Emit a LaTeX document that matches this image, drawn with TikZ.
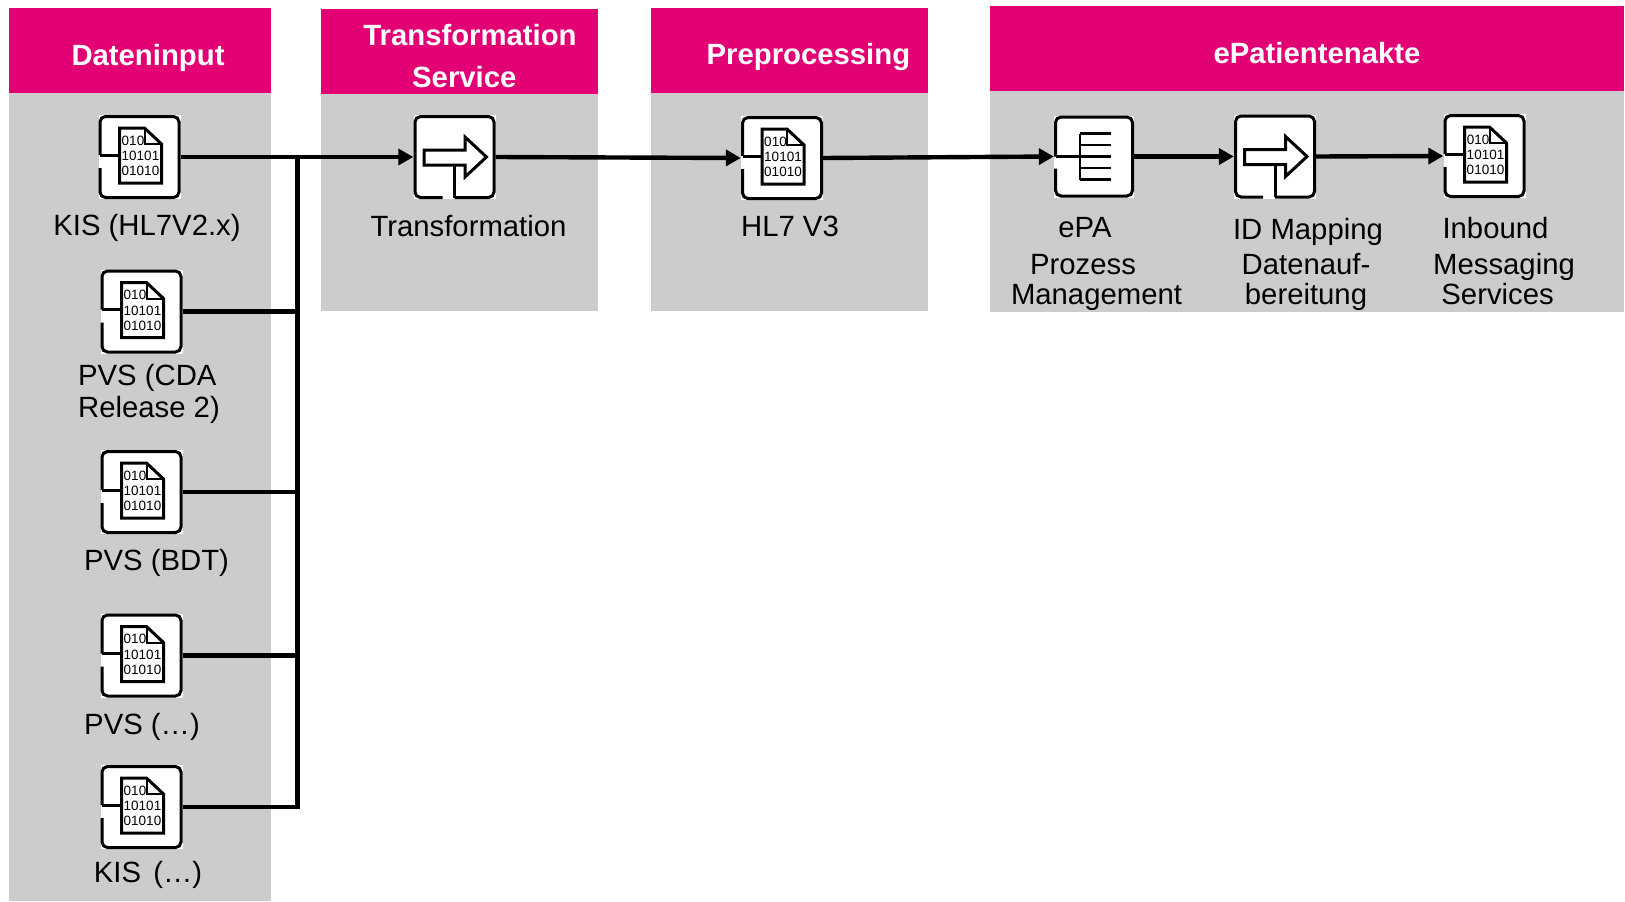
\documentclass[tikz,border=0pt]{standalone}
\usepackage{fontspec}
\setmainfont{Liberation Sans}
\usetikzlibrary{arrows.meta}
\definecolor{headpink}{HTML}{E20074}
\definecolor{panelgrey}{HTML}{CCCCCC}
\tikzset{
  bindoc/.pic={
    \draw[glyph,fill=white] (-20,-29) -- (5,-29) -- (22,-13) -- (22,26) -- (-20,26) -- cycle;
    \draw[glyph,line width=2pt] (5,-29) -- (5,-13) -- (22,-13);
    \draw[glyph,rounded corners=5.5pt] (-39.5,11) -- (-39.5,40.5) -- (39.5,40.5) -- (39.5,-40.5) -- (-39.5,-40.5) -- (-39.5,-2);
    \draw[glyph] (-39.5,-2) -- (-20,-2);
    \node[bits] (-bita) at (-6.5,-16.5) {010};
    \node[bits] (-bitb) at (1,-1) {10101};
    \node[bits] (-bitc) at (1,14) {01010};
  },
  mapicon/.pic={
    \draw[glyph,rounded corners=5.5pt] (-12,40.5) -- (-39.5,40.5) -- (-39.5,-40.5) -- (39.5,-40.5) -- (39.5,40.5) -- (0,40.5);
    \draw[glyph] (0,40.5) -- (0,8);
    \draw[glyph] (-30.5,-7) -- (10.5,-7) -- (10.5,-20) -- (32,0) -- (10.5,20) -- (10.5,8) -- (-30.5,8) -- cycle;
  },
  listicon/.pic={
    \draw[glyph,rounded corners=5.5pt] (-38.5,12) -- (-38.5,39.5) -- (38.5,39.5) -- (38.5,-39.5) -- (-38.5,-39.5) -- (-38.5,0);
    \draw[glyph,line width=2.2pt] (-38.5,0) -- (-14,0);
    \draw[glyph,line width=2.6pt] (-14,-23) -- (-14,23);
    \foreach \t in {-23,-11.5,0,11.5,23}
      \draw[glyph,line width=2.6pt] (-14,\t) -- (17,\t);
  }
}
\begin{document}
\begin{tikzpicture}[x=1pt,y=-1pt,>={Triangle[length=15pt,width=16pt]},
  flow/.style={->,line width=4.4pt},
  busline/.style={line width=4.4pt},
  glyph/.style={line width=3pt,black},
  bits/.style={font=\fontsize{13.5}{14}\selectfont,inner sep=0pt},
  iconbox/.style={fill=white,minimum width=82pt,minimum height=84pt,inner sep=0pt},
  headtext/.style={font=\fontsize{29.3}{32}\selectfont\bfseries,text=white,inner sep=0pt,text height=21pt,text depth=0pt},
  labeltext/.style={font=\fontsize{29.3}{32}\selectfont,inner sep=0pt,text height=21pt,text depth=0pt}]
  \useasboundingbox (0,0) rectangle (1625,902);
  \foreach \xa/\xb/\ya/\yb/\yc in {9/271/8/93/901,321/598/9/94/311,651/928/8/93/311,990/1624/6/91/312}{
    \fill[panelgrey] (\xa,\yb) rectangle (\xb,\yc);
    \fill[headpink] (\xa,\ya) rectangle (\xb,\yb);
  }
  \node[headtext] (headinput) at (148,55) {Dateninput};
  \node[headtext] (headtransa) at (470,35) {Transformation};
  \node[headtext] (headtransb) at (464.3,76.7) {Service};
  \node[headtext] (headpre) at (808.4,54) {Preprocessing};
  \node[headtext] (headepa) at (1317,53) {ePatientenakte};

  \node[iconbox] (kisa) at (139.5,157) {};
  \node[iconbox] (pvsa) at (141.5,311.5) {};
  \node[iconbox] (pvsb) at (141.5,492) {};
  \node[iconbox] (pvsc) at (141.5,655.5) {};
  \node[iconbox] (kisb) at (141.5,807) {};
  \node[iconbox] (trans) at (454.5,157) {};
  \node[iconbox] (hlv) at (782,158) {};
  \node[iconbox,minimum width=80pt,minimum height=82pt] (prozess) at (1094,156.5) {};
  \node[iconbox] (mapping) at (1275,156.5) {};
  \node[iconbox] (inbound) at (1484.5,156) {};
  \pic (kisa-doc) at (kisa) {bindoc};
  \pic (pvsa-doc) at (pvsa) {bindoc};
  \pic (pvsb-doc) at (pvsb) {bindoc};
  \pic (pvsc-doc) at (pvsc) {bindoc};
  \pic (kisb-doc) at (kisb) {bindoc};
  \pic (hlv-doc) at (hlv) {bindoc};
  \pic (inbound-doc) at (inbound) {bindoc};
  \pic (trans-map) at (trans) {mapicon};
  \pic (mapping-map) at (mapping) {mapicon};
  \pic (prozess-list) at (prozess) {listicon};

  \node[labeltext] (kisatext) at (147,225) {KIS (HL7V2.x)};
  \node[labeltext,align=left,text height=,text depth=] (pvsatext) at (149,394) {PVS (CDA\\Release 2)};
  \node[labeltext] (pvsbtext) at (156.5,560) {PVS (BDT)};
  \node[labeltext] (pvsctext) at (142,723.5) {PVS (…)};
  \node[labeltext] (kisbtext) at (148,872) {KIS\hspace{4pt} (…)};
  \node[labeltext] (transtext) at (468.5,226) {Transformation};
  \node[labeltext] (hlvtext) at (790,226) {HL7 V3};
  \node[labeltext] (prozessa) at (1085,227) {ePA};
  \node[labeltext] (prozessb) at (1083,264) {Prozess};
  \node[labeltext] (prozessc) at (1096.5,294) {Management};
  \node[labeltext] (mappinga) at (1308,229) {ID Mapping};
  \node[labeltext] (mappingb) at (1306,264) {Datenauf-};
  \node[labeltext] (mappingc) at (1306,294) {bereitung};
  \node[labeltext] (inbounda) at (1495.5,228) {Inbound};
  \node[labeltext] (inboundb) at (1504,264) {Messaging};
  \node[labeltext] (inboundc) at (1497.6,294) {Services};

  \coordinate (bustop) at (297.5,157);
  \draw[flow] (kisa.east) -- (trans.west);
  \draw[busline] (kisb.east) -| (bustop);
  \draw[busline] (pvsa.east) -- (pvsa.east -| bustop);
  \draw[busline] (pvsb.east) -- (pvsb.east -| bustop);
  \draw[busline] (pvsc.east) -- (pvsc.east -| bustop);
  \draw[flow] (trans.east) -- (hlv.west);
  \draw[flow] (hlv.east) -- (prozess.west);
  \draw[flow] (prozess.east) -- (mapping.west);
  \draw[flow] (mapping.east) -- (inbound.west);
\end{tikzpicture}
\end{document}
